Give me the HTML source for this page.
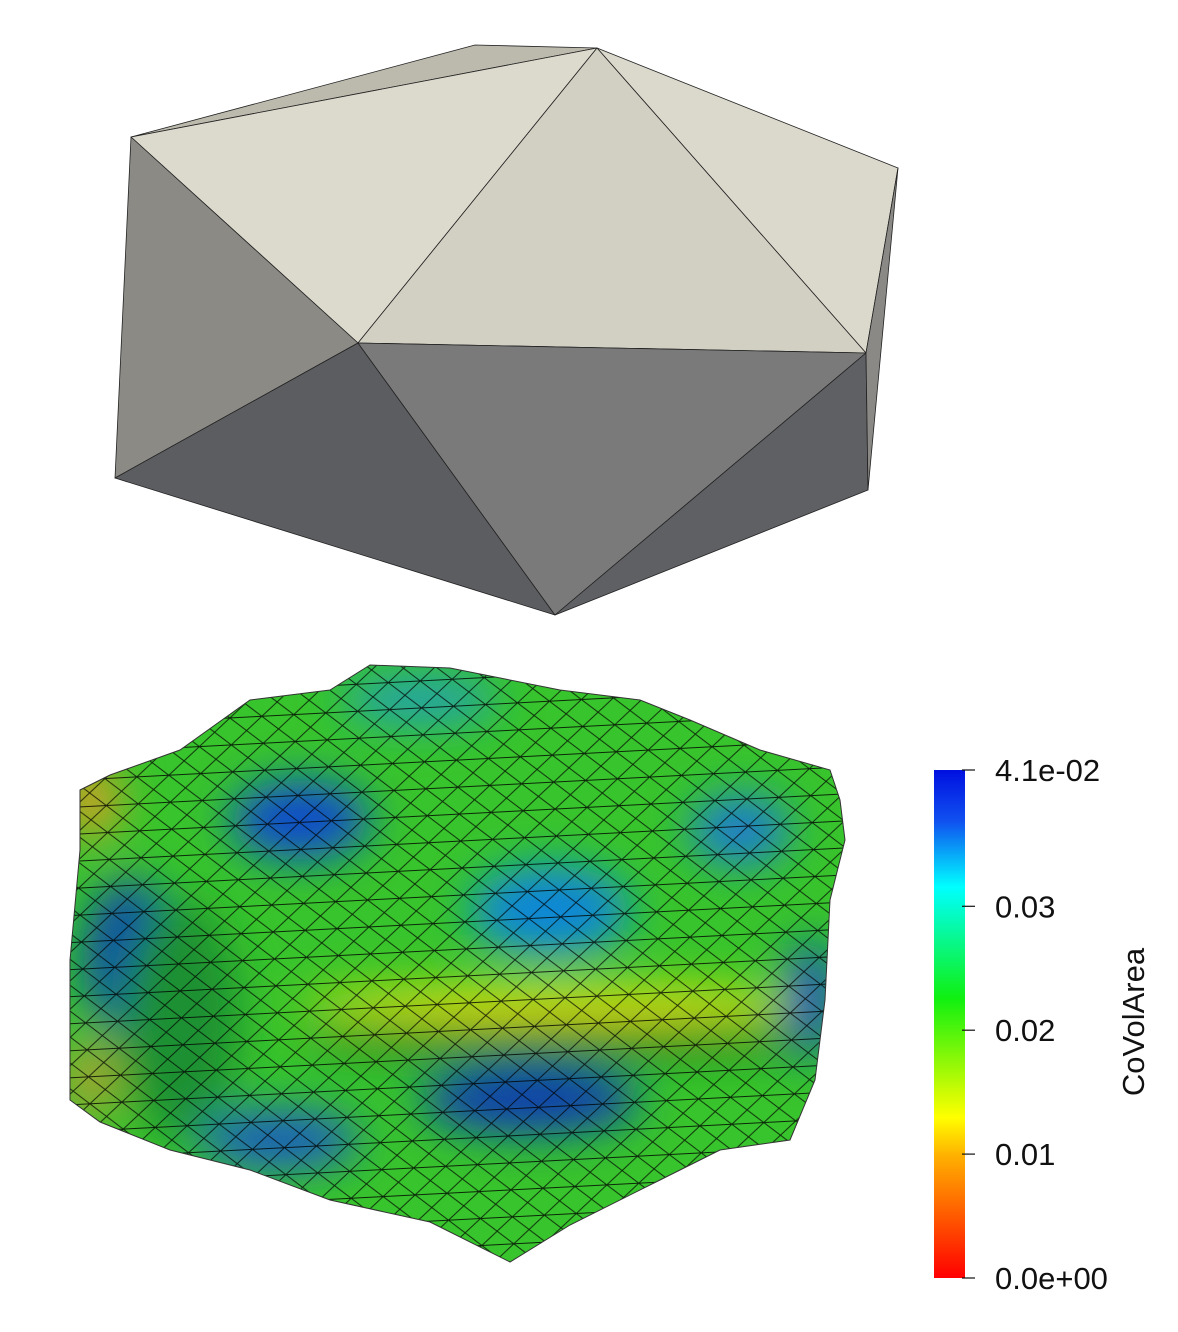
<!DOCTYPE html>
<html><head><meta charset="utf-8"><style>
body{margin:0;background:#fff;}
svg{display:block;font-family:"Liberation Sans",sans-serif;}
</style></head><body>
<svg width="1178" height="1332" viewBox="0 0 1178 1332">
<defs>
<linearGradient id="cb" x1="0" y1="0" x2="0" y2="1">
<stop offset="0" stop-color="#0010e0"/>
<stop offset="0.1" stop-color="#1050f0"/>
<stop offset="0.23" stop-color="#00ffff"/>
<stop offset="0.45" stop-color="#10f010"/>
<stop offset="0.684" stop-color="#ffff00"/>
<stop offset="0.76" stop-color="#ffb000"/>
<stop offset="1" stop-color="#ff0000"/>
</linearGradient>
<filter id="bl" x="-50%" y="-50%" width="200%" height="200%"><feGaussianBlur stdDeviation="22"/></filter>
<pattern id="mesh" width="64" height="54" patternUnits="userSpaceOnUse" patternTransform="rotate(-3)">
<path d="M0 0H64M0 27H64M0 54H64M0 0L32 27L64 0M32 27L0 54M32 27L64 54M32 0L0 27M32 0L64 27M0 27L32 54M64 27L32 54" stroke="#000" stroke-width="0.9" fill="none" opacity="0.8"/>
</pattern>
<clipPath id="blobclip"><path id="blobpath" d="M80 790L110 775L180 750L250 700L330 690L370 665L450 668L560 690L640 700L690 720L760 750L830 770L840 800L845 840L830 900L825 1000L815 1080L790 1140L720 1150L660 1180L570 1225L510 1262L430 1222L330 1200L250 1170L170 1150L100 1122L70 1100L70 960L80 850Z"/></clipPath>
</defs>

<g stroke="#222" stroke-width="0.8" stroke-linejoin="round">
<polygon points="131,137 475,45 597,48" fill="#bcb9ad"/>
<polygon points="131,137 597,48 358,343" fill="#dcd9cd"/>
<polygon points="597,48 898,168 866,353" fill="#dbd8cc"/>
<polygon points="597,48 866,353 358,343" fill="#d2cfc3"/>
<polygon points="131,137 358,343 115,478" fill="#8b8a85"/>
<polygon points="115,478 358,343 555,615" fill="#5c5d61"/>
<polygon points="358,343 866,353 555,615" fill="#7a7a7a"/>
<polygon points="866,353 868,490 555,615" fill="#5f6064"/>
<polygon points="898,168 868,490 866,353" fill="#8a8985"/>
</g>

<g clip-path="url(#blobclip)">
<rect x="60" y="650" width="800" height="620" fill="#38c42c"/>
<g filter="url(#bl)">
<ellipse cx="300" cy="820" rx="70" ry="40" fill="#0a4ccc"/>
<ellipse cx="550" cy="910" rx="80" ry="45" fill="#0a86d8"/>
<ellipse cx="740" cy="830" rx="50" ry="35" fill="#1a7cd0"/>
<ellipse cx="130" cy="960" rx="45" ry="80" fill="#0a3cb0"/>
<ellipse cx="530" cy="1100" rx="110" ry="35" fill="#0a3cb0"/>
<ellipse cx="280" cy="1140" rx="80" ry="30" fill="#1a5cc0"/>
<ellipse cx="420" cy="700" rx="80" ry="25" fill="#20a0b0"/>
<ellipse cx="90" cy="800" rx="30" ry="40" fill="#d0a020"/>
<ellipse cx="560" cy="1005" rx="260" ry="20" fill="#d8e010"/>
<ellipse cx="90" cy="1080" rx="25" ry="40" fill="#b0a030"/>
<ellipse cx="810" cy="1000" rx="25" ry="60" fill="#1050c0"/>
<ellipse cx="560" cy="1040" rx="260" ry="16" fill="#1a7020"/>
<ellipse cx="180" cy="1020" rx="60" ry="120" fill="#1a9030"/>
</g>
<rect x="60" y="650" width="800" height="620" fill="url(#mesh)"/>
</g>
<use href="#blobpath" fill="none" stroke="#333" stroke-width="1"/>

<g>
<rect x="934" y="770" width="31" height="508" fill="url(#cb)"/>
<g id="ticks"></g>
<text transform="translate(1144,1022) rotate(-90)" text-anchor="middle" font-size="31" fill="#111">CoVolArea</text>
</g>
</svg>
<script>
const tickValues=[0.041,0.03,0.02,0.01,0];
const tickLabels=["4.1e-02","0.03","0.02","0.01","0.0e+00"];
const vmin=0,vmax=0.041,top0=770,bot0=1278;
function yScale(v){return bot0-(v-vmin)/(vmax-vmin)*(bot0-top0);}
const g=document.getElementById('ticks');
const NS='http://www.w3.org/2000/svg';
tickValues.forEach((v,i)=>{
const y=yScale(v);
const l=document.createElementNS(NS,'line');


l.setAttribute('x1',962);l.setAttribute('x2',975);l.setAttribute('y1',y);l.setAttribute('y2',y);
l.setAttribute('stroke','#111');l.setAttribute('stroke-width','1.2');
g.appendChild(l);
const t=document.createElementNS(NS,'text');


t.setAttribute('x',995);t.setAttribute('y',y+11);
t.setAttribute('font-size','31');t.setAttribute('fill','#111');
t.textContent=tickLabels[i];
g.appendChild(t);
});
</script>
</body></html>
